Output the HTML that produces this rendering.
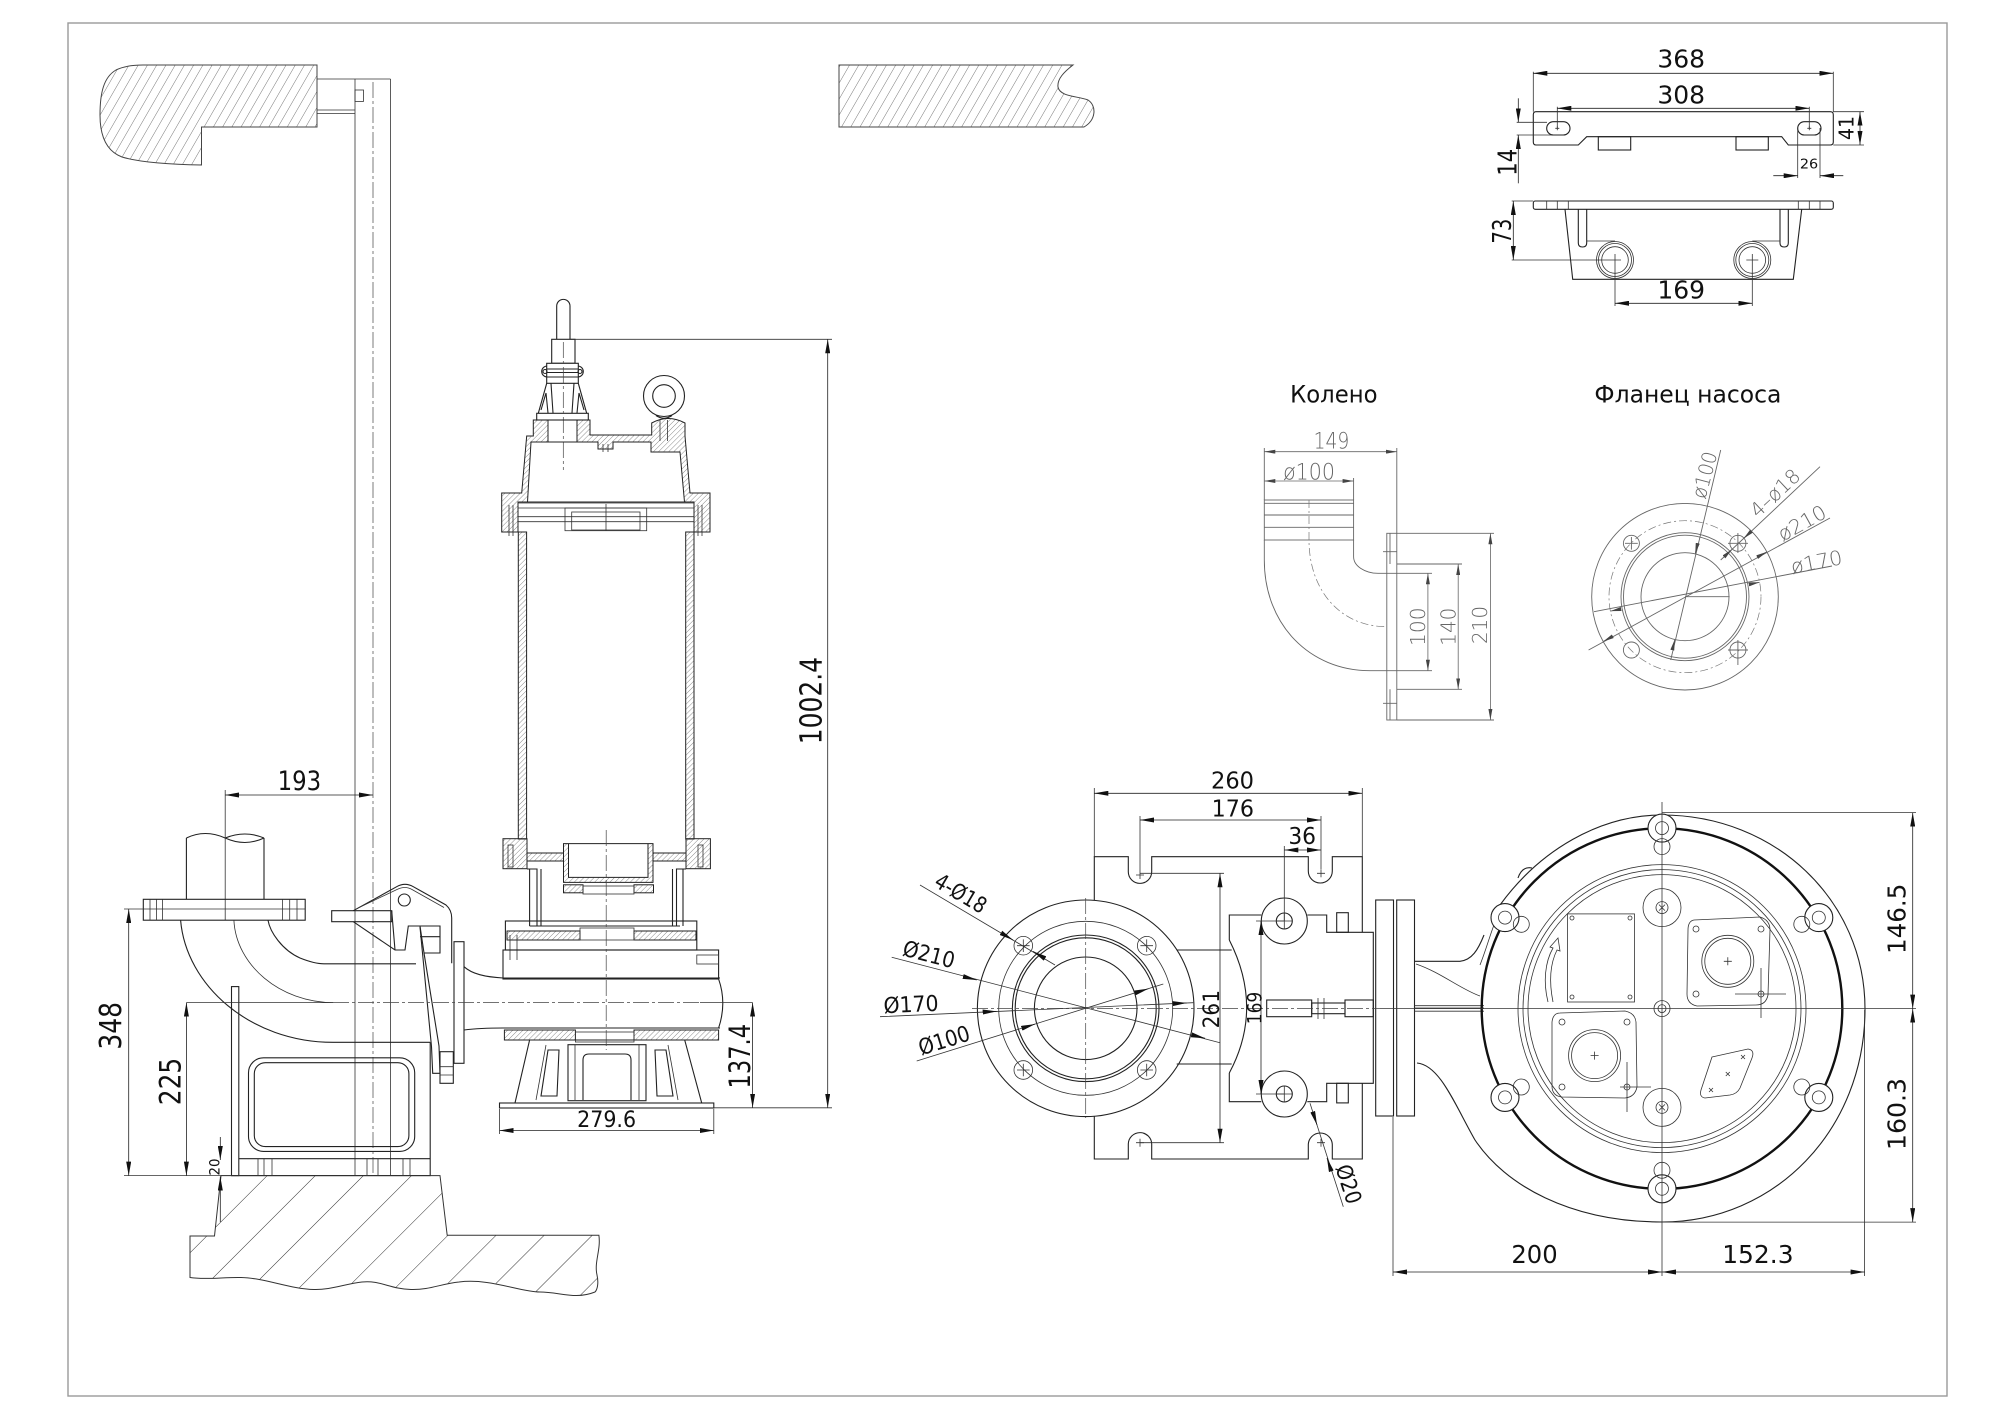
<!DOCTYPE html>
<html><head><meta charset="utf-8"><style>
html,body{margin:0;padding:0;background:#fff;}
svg{display:block;}
text{font-family:"DejaVu Sans","Liberation Sans",sans-serif;fill:#111;}
.l{stroke:#222;stroke-width:1.1;fill:none;}
.t{stroke:#333;stroke-width:0.8;fill:none;}
.c{stroke:#444;stroke-width:0.7;fill:none;stroke-dasharray:16 3 3 3;}
.g{stroke:#666;stroke-width:0.9;fill:none;}
.gc{stroke:#777;stroke-width:0.7;fill:none;stroke-dasharray:8 3 2 3;}
.d{stroke:#222;stroke-width:0.8;fill:none;}
.dd{marker-start:url(#a);marker-end:url(#a);}
.de{marker-end:url(#a);}
.gd{stroke:#666;stroke-width:0.8;fill:none;marker-start:url(#b);marker-end:url(#b);}
.ge{stroke:#666;stroke-width:0.8;fill:none;marker-end:url(#b);}
.h{fill:url(#hs);stroke:#222;stroke-width:1;}
.gt{fill:#666;font-weight:300;}
</style></head><body>
<svg width="2000" height="1414" viewBox="0 0 2000 1414" xmlns="http://www.w3.org/2000/svg">
<defs>
<marker id="a" viewBox="0 0 14 5" refX="14" refY="2.5" markerWidth="14" markerHeight="5" markerUnits="userSpaceOnUse" orient="auto-start-reverse"><path d="M0,0 L14,2.5 L0,5 Z" fill="#111"/></marker>
<marker id="b" viewBox="0 0 11 4" refX="11" refY="2" markerWidth="11" markerHeight="4" markerUnits="userSpaceOnUse" orient="auto-start-reverse"><path d="M0,0 L11,2 L0,4 Z" fill="#444"/></marker>
<pattern id="hs" width="3.6" height="3.6" patternUnits="userSpaceOnUse" patternTransform="rotate(45)"><line x1="0" y1="0" x2="0" y2="3.6" stroke="#444" stroke-width="0.6"/></pattern>
<pattern id="hw" width="8" height="8" patternUnits="userSpaceOnUse" patternTransform="rotate(30)"><line x1="0" y1="0" x2="0" y2="8" stroke="#555" stroke-width="0.8"/></pattern>
<pattern id="hf" width="34" height="34" patternUnits="userSpaceOnUse" patternTransform="rotate(45)"><line x1="0" y1="0" x2="0" y2="34" stroke="#333" stroke-width="1"/></pattern>
</defs>

<rect x="68" y="23" width="1879" height="1373" fill="none" stroke="#9a9a9a" stroke-width="1.4"/>

<!-- top-left wall slab -->
<path d="M143,65 L317,65 L317,127 L201.5,127 L201.5,165 C175,164.5 142,163 122,157 C106,151 100,136 100,115 C100,92 104,77 116,70 C124,66 133,65 143,65 Z" fill="url(#hw)" stroke="#444" stroke-width="1"/>
<path class="t" d="M317,79 H355 M317,113.6 H355 M317,110 H355"/>
<rect class="t" x="355" y="90" width="8.5" height="11.4"/>
<!-- guide rail -->
<path class="t" d="M355,79 H390.5 M355,79 V1175.6 M390.5,79 V1175.6"/>
<line class="c" x1="373" y1="82" x2="373" y2="1175"/>

<!-- top-right slab -->
<path d="M839,65 L1073,65 C1064,72 1057,79 1058,87 C1060,97 1078,96 1088,100 C1097,106 1096,120 1084,127 L839,127 Z" fill="url(#hw)" stroke="#444" stroke-width="1"/>

<!-- ===== PUMP SIDE VIEW ===== -->
<g class="l">
<path d="M556.7,339 L556.7,306 A6.65,6.65 0 0 1 570,306 L570,339"/>
<rect x="551.7" y="339.3" width="23.3" height="24"/>
<rect x="541.7" y="366" width="41.6" height="11" rx="5.5"/>
<rect x="546.7" y="363.3" width="31.6" height="20" fill="#fff"/>
<path d="M546.7,369 H578.3 M546.7,372.5 H578.3 M546.7,377 H578.3"/>
<circle cx="545" cy="371.5" r="2"/><circle cx="580" cy="371.5" r="2"/>
<path d="M546.7,383.3 L538.3,413.3 M578.3,383.3 L586.7,413.3 M551,383.3 L553,413 M574,383.3 L572,413 M541,410 L546,393 L548,413 M584,410 L579,393 L577,413"/>
<rect x="536.7" y="413.3" width="51.6" height="6.7"/>
</g>
<line class="c" x1="563.3" y1="342" x2="563.3" y2="470"/>
<path class="h" fill-rule="evenodd" d="M533.3,420 L590,420 L590,435 L651.7,435 L651.7,423 Q668,414 685,423 L685,436 L690,493 L710,493 L710,532 L694,532 L694,502 L518,502 L518,532 L501.7,532 L501.7,493 L521.7,493 L526.7,436 L533.3,436 Z M531,442 L598,442 L598,449 L613,449 L613,442 L651,442 L651,452 L680,452 L684.5,502 L527.5,502 Z M548,420 L577,420 L577,442 L548,442 Z"/>
<circle class="l" cx="664" cy="396" r="20.5"/><circle class="l" cx="664" cy="396" r="11.3"/>
<path class="l" d="M656,415.5 Q664,421 672,415.5"/>
<path class="t" d="M660,420 V441 M667.5,420 V441 M603,444 V452 M608,444 V452"/>
<path class="t" d="M518,503 H694 M518,508 H694 M518,516.7 H694 M518,521.7 H694"/>
<rect class="t" x="565" y="508" width="81.7" height="22.7"/>
<rect class="t" x="571.7" y="512" width="68.3" height="18"/>
<path class="t" d="M606,504 V531 M509,505 V536 M513,505 V536 M698,505 V536 M702,505 V536"/>
<rect class="h" x="518.3" y="532" width="8.3" height="307"/>
<rect class="h" x="685.7" y="532" width="8.3" height="307"/>
<!-- lower motor section -->
<rect class="h" x="503" y="838.7" width="24" height="30"/>
<rect class="h" x="686" y="838.7" width="24.4" height="30"/>
<rect class="t" x="508" y="845" width="5" height="22" fill="#fff"/>
<rect class="t" x="698" y="845" width="5" height="22" fill="#fff"/>
<path class="h" fill-rule="evenodd" d="M563.5,843.6 H653 V882.4 H563.5 Z M568.5,843.6 H648 V877.4 H568.5 Z"/>
<rect class="h" x="527" y="853" width="36.5" height="8"/>
<rect class="h" x="653" y="853" width="33" height="8"/>
<path class="l" d="M527,869 H537 V926 M686,869 H676.5 V926 M541,869 V926 M672.5,869 V926 M529.6,926 H680 M529.6,869 V926 M683,869 V926"/>
<rect class="h" x="563.5" y="884.8" width="19.5" height="8"/>
<rect class="h" x="634" y="884.8" width="19.5" height="8"/>
<rect class="t" x="583" y="886" width="51" height="8"/>
<rect class="l" x="505.4" y="921" width="191.4" height="29"/>
<rect class="h" x="507" y="931" width="73" height="9"/>
<rect class="h" x="634" y="931" width="62" height="9"/>
<rect class="t" x="580" y="928" width="54" height="12"/>
<path class="t" d="M510,935 V960 M517,935 V960"/>
<rect class="l" x="503" y="950" width="215.6" height="29"/>
<rect class="t" x="696.8" y="955" width="21.8" height="9"/>
<path class="l" d="M464,966.7 C472,974 485,977 503,978 L720,978 M464,1030 C472,1029 485,1028 503,1028 L720,1028 M718.6,979 Q727,1003 718.6,1028"/>
<rect class="h" x="504.4" y="1030" width="71" height="10"/>
<rect class="h" x="634" y="1030" width="84.6" height="10"/>
<rect class="t" x="575.4" y="1032" width="58.6" height="10"/>
<path class="l" d="M529.6,1040 H684.7 L701.7,1103 H515 Z"/>
<rect class="l" x="568" y="1044.7" width="78" height="56"/>
<path class="l" d="M583,1100 V1060 Q583,1054 589,1054 H625 Q631,1054 631,1060 V1100"/>
<path class="l" d="M541,1096 L548,1050 L559,1050 L557,1096 Z M673,1096 L666,1050 L655,1050 L657,1096 Z"/>
<path class="t" d="M536,1100 L546,1045 M678,1100 L668,1045 M575,1045 V1100 M639,1045 V1100"/>
<rect class="l" x="499.5" y="1103" width="214.3" height="5"/>
<line class="c" x1="606.2" y1="830" x2="606.2" y2="1050"/>

<!-- elbow / base (left) -->
<path class="l" d="M186.4,838 V899.3 M264,838 V899.3 M186.4,838 Q205,829 225.2,838 Q245,847 264,838 M225.2,838 Q245,830 264,838"/>
<line class="t" x1="225.2" y1="790" x2="225.2" y2="920"/>
<rect class="l" x="143.3" y="899.3" width="161.9" height="20.9"/>
<path class="t" d="M143.3,909 H305.2 M150,899.3 V920.2 M156.4,899.3 V920.2 M162.6,899.3 V920.2 M282.4,899.3 V920.2 M289.7,899.3 V920.2 M297,899.3 V920.2"/>
<path class="l" d="M180.6,920.2 C186,985 250,1042.3 333,1042.3 L430.2,1042.3"/>
<path class="l" d="M268,920.2 C270,932 282,950 300,958 C310,962 318,963.8 324,963.8 L416,963.8"/>
<path class="t" d="M233.9,920.2 C236,965 280,1002.6 333.3,1002.6"/>
<rect class="l" x="231.5" y="986.6" width="7.3" height="189"/>
<path class="l" d="M430.2,1042.3 V1175.6 H231.5 M238.8,1158.7 H430.2"/>
<path class="t" d="M258,1158.7 V1175.6 M264,1158.7 V1175.6 M272,1158.7 V1175.6 M367,1158.7 V1175.6 M378,1158.7 V1175.6 M403,1158.7 V1175.6 M410,1158.7 V1175.6"/>
<rect class="l" x="248.5" y="1057.8" width="166.2" height="93.6" rx="15"/>
<rect class="l" x="254.3" y="1062.7" width="154.6" height="83.9" rx="11"/>
<!-- hook mechanism -->
<rect class="l" x="331.7" y="910.7" width="60" height="11" fill="#fff"/>
<path class="l" d="M353.3,910.7 L396.7,886.7 Q405,882 413.3,886.7 L446,905 Q451.7,910 451.7,918 V963.3"/>
<path class="t" d="M358,908 L397,889.5 Q405,885.5 412,889.5 L444,907.5"/>
<path class="l" d="M353.3,921.7 L395,950 H405 L408.3,926 H420 L424,953 H440 V926 H420 M420,936.7 H440 M391.7,910.7 L395,950"/>
<circle class="l" cx="404.3" cy="900" r="6"/>
<path class="l" d="M420,927 L431.5,1046.7 L432.7,1073.3 H440 L439,1046 L424,953"/>
<rect class="l" x="454" y="941.7" width="10" height="121.6"/>
<rect class="l" x="440" y="1051.7" width="13.3" height="31.6"/>
<path class="t" d="M440,1066.7 H453.3 M440,1075 H453.3"/>
<!-- floor -->
<path d="M221,1175.6 H440 L447.2,1235.3 H598.9 C601,1250 594,1262 597,1275 C599,1284 597,1290 595,1292 C575,1300 560,1292 540,1292 C520,1292 490,1278 459,1282 C440,1284 430,1290 411,1289.5 C390,1289 380,1280 362,1282 C345,1284 330,1290 314,1289.5 C290,1289 265,1278 241,1277.5 C225,1277 205,1280 190,1277.5 V1236 H214.5 Z" fill="url(#hf)" stroke="#333" stroke-width="1"/>

<!-- left dims -->
<line class="d dd" x1="225.2" y1="795" x2="373" y2="795"/>
<text x="299.4" y="790" font-size="26.5" text-anchor="middle" textLength="43.6" lengthAdjust="spacingAndGlyphs">193</text>
<line class="d dd" x1="128.7" y1="909" x2="128.7" y2="1175.6"/>
<path class="t" d="M124,909 H143.3 M124,1175.6 H231.5"/>
<text transform="translate(121.2,1025.8) rotate(-90)" font-size="30" text-anchor="middle" textLength="47.6" lengthAdjust="spacingAndGlyphs">348</text>
<line class="d dd" x1="186.4" y1="1002.6" x2="186.4" y2="1175.6"/>
<text transform="translate(180.6,1081.5) rotate(-90)" font-size="29.5" text-anchor="middle" textLength="47.5" lengthAdjust="spacingAndGlyphs">225</text>
<line class="d de" x1="220.3" y1="1137" x2="220.3" y2="1160"/>
<line class="d de" x1="220.3" y1="1222" x2="220.3" y2="1176.5"/>
<text transform="translate(219.4,1167) rotate(-90)" font-size="14.5" text-anchor="middle" textLength="17" lengthAdjust="spacingAndGlyphs">20</text>
<path class="t" d="M186.4,1002.6 H333 M700,1002.6 H752.6"/>
<line class="c" x1="333" y1="1002.6" x2="700" y2="1002.6"/>
<path class="t" d="M570,339.3 H832 M713.8,1107.8 H832"/>
<line class="d dd" x1="827.7" y1="339.3" x2="827.7" y2="1107.8"/>
<text transform="translate(821.4,700.6) rotate(-90)" font-size="30" text-anchor="middle" textLength="87.2" lengthAdjust="spacingAndGlyphs">1002.4</text>
<line class="d dd" x1="752.6" y1="1002.6" x2="752.6" y2="1107.8"/>
<text transform="translate(750.2,1056.2) rotate(-90)" font-size="29.5" text-anchor="middle" textLength="64.5" lengthAdjust="spacingAndGlyphs">137.4</text>
<line class="d dd" x1="499.5" y1="1130.5" x2="713.8" y2="1130.5"/>
<path class="t" d="M499.5,1109 V1134 M713.8,1109 V1134"/>
<text x="606.6" y="1127" font-size="22" text-anchor="middle" textLength="59" lengthAdjust="spacingAndGlyphs">279.6</text>

<!-- ===== MIDDLE (DISCHARGE) VIEW ===== -->
<path class="l" d="M1094.3,900 V856.7 H1128.3 V871.7 A11.7,11.7 0 0 0 1151.7,871.7 V856.7 H1308.3 V871 A12,12 0 0 0 1332.3,871 V856.7 H1362.3 V932.3"/>
<path class="l" d="M1094.3,1116 V1159 H1128.3 V1144.3 A11.7,11.7 0 0 1 1151.7,1144.3 V1159 H1308.3 V1145 A12,12 0 0 1 1332.3,1145 V1159 H1362.3 V1083.3"/>
<path class="t" d="M1136,875 H1144 M1140,871 V879 M1317,873.3 H1325 M1321,869.3 V877.3 M1136,1142.7 H1144 M1140,1138.7 V1146.7 M1317,1142.7 H1325 M1321,1138.7 V1146.7"/>
<path class="l" d="M1176.7,950 H1231.7 M1176.7,1064 H1231.7"/>
<path class="l" d="M1229.3,940 V915 H1261.3 M1307.3,915 H1326.7 V932.3 H1373.3 V1083.3 H1326.7 V1101.7 H1307.3 M1261.3,1101.7 H1229.3 V1073"/>
<path class="l" d="M1229.3,940 Q1264,1008.3 1229.3,1073"/>
<rect class="l" x="1336.7" y="912.7" width="11.6" height="19.6"/>
<rect class="l" x="1336.7" y="1083.3" width="11.6" height="19.6"/>
<circle class="l" cx="1284.3" cy="921" r="23" fill="#fff"/>
<circle class="l" cx="1284.3" cy="921" r="8"/>
<path class="t" d="M1276,921 H1292.6 M1284.3,913 V929"/>
<circle class="l" cx="1284.3" cy="1094" r="23" fill="#fff"/>
<circle class="l" cx="1284.3" cy="1094" r="8"/>
<path class="t" d="M1276,1094 H1292.6 M1284.3,1086 V1102"/>
<rect class="l" x="1266.7" y="1000" width="45" height="16.7"/>
<rect class="l" x="1311.7" y="1003" width="33.3" height="10.7"/>
<rect class="l" x="1345" y="1000" width="28.3" height="16.7"/>
<path class="t" d="M1318,998 V1019 M1324,998 V1019"/>
<rect class="l" x="1375.7" y="900" width="17.8" height="216" fill="#fff"/>
<rect class="l" x="1396.7" y="900" width="17.8" height="216" fill="#fff"/>
<!-- flange circle -->
<circle class="l" cx="1085.7" cy="1008.3" r="108.3" fill="#fff"/>
<circle class="t" cx="1085.7" cy="1008.3" r="87"/>
<circle class="l" cx="1085.7" cy="1008.3" r="73.3"/>
<circle class="l" cx="1085.7" cy="1008.3" r="70.5"/>
<circle class="l" cx="1085.7" cy="1008.3" r="51.3"/>
<g class="t">
<circle cx="1023.3" cy="945.7" r="9.3"/><circle cx="1146.7" cy="945.7" r="9.3"/>
<circle cx="1023.3" cy="1070" r="9.3"/><circle cx="1146.7" cy="1070" r="9.3"/>
<path d="M1017,945.7 H1029.6 M1023.3,939.4 V952 M1140.4,945.7 H1153 M1146.7,939.4 V952 M1017,1070 H1029.6 M1023.3,1063.7 V1076.3 M1140.4,1070 H1153 M1146.7,1063.7 V1076.3"/>
</g>
<line class="c" x1="1085.7" y1="898" x2="1085.7" y2="1118"/>
<line class="c" x1="972" y1="1008.5" x2="1380" y2="1008.5"/>
<!-- middle dims -->
<path class="t" d="M1094.3,788 V856.7 M1362.3,788 V856.7 M1140,816 V871 M1321,816 V869 M1284.3,846 V921 M1140,873.3 H1224 M1140,1142.7 H1224 M1256,921 H1284.3 M1256,1094 H1284.3"/>
<line class="d dd" x1="1094.3" y1="793.3" x2="1362.3" y2="793.3"/>
<text x="1232.5" y="788.3" font-size="23" text-anchor="middle" textLength="43" lengthAdjust="spacingAndGlyphs">260</text>
<line class="d dd" x1="1140" y1="820" x2="1321" y2="820"/>
<text x="1232.8" y="816.7" font-size="23" text-anchor="middle" textLength="42.3" lengthAdjust="spacingAndGlyphs">176</text>
<line class="d dd" x1="1284.3" y1="850" x2="1321" y2="850"/>
<text x="1302.2" y="844" font-size="23" text-anchor="middle" textLength="27.7" lengthAdjust="spacingAndGlyphs">36</text>
<line class="d dd" x1="1220" y1="873.3" x2="1220" y2="1142.7"/>
<text transform="translate(1219,1009.2) rotate(-90)" font-size="22.3" text-anchor="middle" textLength="38.3" lengthAdjust="spacingAndGlyphs">261</text>
<line class="d dd" x1="1261" y1="921" x2="1261" y2="1094"/>
<text transform="translate(1261.7,1008) rotate(-90)" font-size="19.5" text-anchor="middle" textLength="32.6" lengthAdjust="spacingAndGlyphs">169</text>
<!-- leaders -->
<path class="t" d="M920,885 L1055,965 M891.7,957.3 L1220,1042.7 M880,1016.7 L1193.3,1002.7 M916.7,1061 L1163.3,984 M1310,1103.3 L1343.3,1206.7"/>
<line class="d de" x1="1001" y1="932.9" x2="1013" y2="940"/>
<line class="d de" x1="1045" y1="958.5" x2="1033" y2="951.4"/>
<line class="d de" x1="963.1" y1="976.5" x2="976.7" y2="980"/>
<line class="d de" x1="1191.4" y1="1034.8" x2="1205" y2="1038.3"/>
<line class="d de" x1="982.7" y1="1012" x2="996.7" y2="1011.4"/>
<line class="d de" x1="1172.7" y1="1003.6" x2="1186.7" y2="1003"/>
<line class="d de" x1="1021.6" y1="1028.3" x2="1035" y2="1024.1"/>
<line class="d de" x1="1134.9" y1="992.9" x2="1148.3" y2="988.7"/>
<line class="d de" x1="1312.7" y1="1111.7" x2="1317" y2="1125"/>
<line class="d de" x1="1331.3" y1="1171.3" x2="1327" y2="1158"/>
<text transform="translate(961,893) rotate(30.6)" y="8" font-size="22" text-anchor="middle" textLength="56" lengthAdjust="spacingAndGlyphs">4-Ø18</text>
<text transform="translate(929,954) rotate(14.6)" y="8" font-size="22" text-anchor="middle" textLength="52.7" lengthAdjust="spacingAndGlyphs">Ø210</text>
<text transform="translate(911,1004) rotate(-2.6)" y="8" font-size="22" text-anchor="middle" textLength="55" lengthAdjust="spacingAndGlyphs">Ø170</text>
<text transform="translate(944,1040) rotate(-17.3)" y="8" font-size="22" text-anchor="middle" textLength="52.6" lengthAdjust="spacingAndGlyphs">Ø100</text>
<text transform="translate(1349,1184) rotate(72)" y="8" font-size="22" text-anchor="middle" textLength="40" lengthAdjust="spacingAndGlyphs">Ø20</text>

<!-- ===== MOTOR BOTTOM VIEW ===== -->
<path class="l" d="M1500,905 C1540,850 1600,815 1662,815 C1775,815 1865,900 1865,1009 C1865,1130 1775,1222 1662,1222 C1570,1222 1505,1185 1475,1140 C1455,1105 1440,1065 1417,1063"/>
<path class="l" d="M1518,878 Q1522,866 1532,868"/>
<path class="l" d="M1414.5,961.3 H1460 C1472,960 1478,950 1484,935"/>
<path class="t" d="M1416,964 C1440,972 1462,990 1480,996 M1414.5,1005.7 H1484 M1414.5,1011.2 H1484 M1414.5,1008 H1484 M1480,965 C1486,950 1490,935 1494,925"/>
<circle cx="1662" cy="1008.6" r="180.3" fill="none" stroke="#111" stroke-width="2.4"/>
<circle class="t" cx="1662" cy="1008.6" r="144"/>
<circle class="t" cx="1662" cy="1008.6" r="139"/>
<circle class="t" cx="1662" cy="1008.6" r="134"/>
<g class="l" fill="#fff">
<circle cx="1662" cy="828.1" r="14" fill="#fff"/><circle cx="1505" cy="917.6" r="14" fill="#fff"/><circle cx="1818.8" cy="917.6" r="14" fill="#fff"/>
<circle cx="1505" cy="1097.4" r="14" fill="#fff"/><circle cx="1818.8" cy="1097.4" r="14" fill="#fff"/><circle cx="1662" cy="1188.8" r="14" fill="#fff"/>
</g>
<g class="t">
<circle cx="1662" cy="828.1" r="6.5"/><circle cx="1505" cy="917.6" r="6.5"/><circle cx="1818.8" cy="917.6" r="6.5"/>
<circle cx="1505" cy="1097.4" r="6.5"/><circle cx="1818.8" cy="1097.4" r="6.5"/><circle cx="1662" cy="1188.8" r="6.5"/>
<circle cx="1662" cy="846.6" r="8"/><circle cx="1662" cy="1170.3" r="8"/>
<circle cx="1521.3" cy="924.3" r="8"/><circle cx="1801.8" cy="924.3" r="8"/>
<circle cx="1521.3" cy="1087" r="8"/><circle cx="1801.8" cy="1087" r="8"/>
<circle cx="1662" cy="907.6" r="19"/><circle cx="1662" cy="907.6" r="6"/>
<circle cx="1662" cy="1107.4" r="19"/><circle cx="1662" cy="1107.4" r="6"/>
<circle cx="1662" cy="1008.6" r="8"/><circle cx="1662" cy="1008.6" r="4"/>
<path d="M1659,904.6 L1665,910.6 M1665,904.6 L1659,910.6 M1659,1104.4 L1665,1110.4 M1665,1104.4 L1659,1110.4"/>
<rect x="1567.6" y="913.9" width="66.9" height="88.1"/>
<circle cx="1572" cy="918" r="2"/><circle cx="1630" cy="918" r="2"/><circle cx="1572" cy="997" r="2"/><circle cx="1630" cy="997" r="2"/>
<path d="M1548,1002 C1543,982 1545,962 1553,948 L1550,947 L1558,938 L1560,951 L1557,950 C1550,964 1549,982 1553,1002"/>
<path d="M1694,920 L1760,917 Q1770,920 1770,930 L1768,995 Q1766,1005 1756,1005 L1697,1006 Q1687,1004 1687,994 L1688,930 Q1688,921 1694,920 Z"/>
<circle cx="1727.8" cy="961.3" r="26"/><circle cx="1727.8" cy="961.3" r="23"/>
<path d="M1723.8,961.3 H1731.8 M1727.8,957.3 V965.3"/>
<circle cx="1696" cy="929" r="3"/><circle cx="1761" cy="929" r="3"/><circle cx="1696" cy="994" r="3"/><circle cx="1761" cy="994" r="3"/>
<path d="M1735,994 H1786 M1761,968 V1018 M1620,1087 H1651 M1627,1062 V1112"/>
<path d="M1560,1013 L1625,1011 Q1635,1013 1636,1022 L1637,1087 Q1635,1097 1625,1098 L1562,1097 Q1552,1096 1552,1086 L1552,1022 Q1553,1013 1560,1013 Z"/>
<circle cx="1594.6" cy="1055.6" r="26"/><circle cx="1594.6" cy="1055.6" r="23"/>
<path d="M1590.6,1055.6 H1598.6 M1594.6,1051.6 V1059.6"/>
<circle cx="1562" cy="1022" r="3"/><circle cx="1627" cy="1022" r="3"/><circle cx="1562" cy="1087" r="3"/><circle cx="1627" cy="1087" r="3"/>
<path d="M1712,1057 L1748,1049 Q1755,1050 1752,1058 L1740,1088 Q1737,1094 1730,1095 L1705,1098 Q1699,1097 1701,1090 Z"/>
<path d="M1741,1055 L1745,1059 M1745,1055 L1741,1059 M1725.8,1072 L1729.8,1076 M1729.8,1072 L1725.8,1076 M1709,1088 L1713,1092 M1713,1088 L1709,1092"/>
</g>
<path class="t" d="M1380,1008.6 H1916 M1662,802 V1276 M1662,812.6 H1916 M1662,1222.1 H1916 M1393,1117 V1276 M1864.6,1010 V1276"/>
<line class="d dd" x1="1912.7" y1="812.6" x2="1912.7" y2="1008.6"/>
<line class="d dd" x1="1912.7" y1="1008.6" x2="1912.7" y2="1222.1"/>
<text transform="translate(1905.3,918.8) rotate(-90)" font-size="25.3" text-anchor="middle" textLength="70.3" lengthAdjust="spacingAndGlyphs">146.5</text>
<text transform="translate(1905.3,1114) rotate(-90)" font-size="25.3" text-anchor="middle" textLength="72.2" lengthAdjust="spacingAndGlyphs">160.3</text>
<line class="d dd" x1="1393" y1="1272" x2="1662" y2="1272"/>
<line class="d dd" x1="1662" y1="1272" x2="1864.6" y2="1272"/>
<text x="1534.5" y="1262.8" font-size="25.3" text-anchor="middle" textLength="46.3" lengthAdjust="spacingAndGlyphs">200</text>
<text x="1757.9" y="1262.8" font-size="25.3" text-anchor="middle" textLength="71.4" lengthAdjust="spacingAndGlyphs">152.3</text>

<!-- ===== TOP PLATE ===== -->
<path class="l" d="M1536,111.7 H1830.3 Q1833.3,111.7 1833.3,114.7 V142 Q1833.3,145 1830.3,145 H1788.3 L1781.7,136.7 H1586.7 L1578.3,145 H1536 Q1533.3,145 1533.3,142 V114.7 Q1533.3,111.7 1536,111.7 Z"/>
<rect class="l" x="1598.3" y="136.7" width="32.4" height="13.3"/>
<rect class="l" x="1736" y="136.7" width="32.3" height="13.3"/>
<rect class="l" x="1546.7" y="121.7" width="23.3" height="13.3" rx="6.65"/>
<rect class="l" x="1797.7" y="121.7" width="23.3" height="13.3" rx="6.65"/>
<path class="t" d="M1555.3,128.3 H1559.3 M1557.3,126.3 V130.3 M1807.3,128.3 H1811.3 M1809.3,126.3 V130.3"/>
<path class="t" d="M1533.3,71.7 V111.7 M1833.3,71.7 V111.7 M1557.3,106.7 V128.3 M1809.3,106.7 V128.3 M1833.3,111.7 H1864 M1833.3,145 H1864 M1516.7,122.3 H1547 M1516.7,135 H1552 M1797.7,128 V178 M1820,128 V178"/>
<line class="d dd" x1="1533.3" y1="73.3" x2="1833.3" y2="73.3"/>
<text x="1681.2" y="67.3" font-size="24.7" text-anchor="middle" textLength="47.7" lengthAdjust="spacingAndGlyphs">368</text>
<line class="d dd" x1="1557.3" y1="108.3" x2="1809.3" y2="108.3"/>
<text x="1681.2" y="103.3" font-size="24.7" text-anchor="middle" textLength="47.7" lengthAdjust="spacingAndGlyphs">308</text>
<line class="d dd" x1="1860" y1="111.7" x2="1860" y2="145"/>
<text transform="translate(1853.3,128) rotate(-90)" font-size="20.5" text-anchor="middle" textLength="24" lengthAdjust="spacingAndGlyphs">41</text>
<line class="d de" x1="1518.3" y1="98.3" x2="1518.3" y2="122.3"/>
<line class="d de" x1="1518.3" y1="183.3" x2="1518.3" y2="135"/>
<text transform="translate(1516.6,162.3) rotate(-90)" font-size="26" text-anchor="middle" textLength="27" lengthAdjust="spacingAndGlyphs">14</text>
<line class="d de" x1="1773.3" y1="175.7" x2="1797.7" y2="175.7"/>
<line class="d de" x1="1843.3" y1="175.7" x2="1820" y2="175.7"/>
<text x="1809" y="168.3" font-size="13.7" text-anchor="middle" textLength="18.3" lengthAdjust="spacingAndGlyphs">26</text>
<!-- top plate lower view -->
<rect class="l" x="1533.3" y="201" width="300" height="8.3" rx="2"/>
<path class="t" d="M1546.7,201 V209.3 M1557.3,201 V209.3 M1568.3,201 V209.3 M1798.3,201 V209.3 M1809.3,201 V209.3 M1820,201 V209.3"/>
<path class="l" d="M1565,209.3 L1572.7,279.3 H1793.3 L1801.7,209.3"/>
<path class="l" d="M1578.3,209.3 V243 Q1578.3,247 1582.5,247 Q1586.7,247 1586.7,243 V209.3 M1780,209.3 V243 Q1780,247 1784.2,247 Q1788.3,247 1788.3,243 V209.3"/>
<path class="t" d="M1586.7,241 H1615 M1752.3,241 H1780"/>
<g class="t">
<circle cx="1615" cy="260" r="18.5" fill="#fff"/><circle cx="1615" cy="260" r="16.5"/><circle cx="1615" cy="260" r="13.3"/>
<circle cx="1752.3" cy="260" r="18.5" fill="#fff"/><circle cx="1752.3" cy="260" r="16.5"/><circle cx="1752.3" cy="260" r="13.3"/>
<path d="M1609,260 H1621 M1615,254 V306 M1746.3,260 H1758.3 M1752.3,254 V306 M1511.7,201 H1533.3 M1511.7,260 H1615"/>
</g>
<line class="d dd" x1="1513.3" y1="201" x2="1513.3" y2="260"/>
<text transform="translate(1511,231.1) rotate(-90)" font-size="26" text-anchor="middle" textLength="25" lengthAdjust="spacingAndGlyphs">73</text>
<line class="d dd" x1="1615" y1="303.3" x2="1752.3" y2="303.3"/>
<text x="1681.2" y="298.3" font-size="24.7" text-anchor="middle" textLength="47.7" lengthAdjust="spacingAndGlyphs">169</text>

<!-- titles -->
<text x="1333.8" y="402.6" font-size="24" text-anchor="middle" textLength="87.4" lengthAdjust="spacingAndGlyphs">Колено</text>
<text x="1687.9" y="402.6" font-size="24" text-anchor="middle" textLength="187" lengthAdjust="spacingAndGlyphs">Фланец насоса</text>

<!-- ===== KOLENO ===== -->
<rect class="g" x="1264.3" y="500" width="89.3" height="40"/>
<path class="g" d="M1264.3,503.3 H1353.6 M1264.3,515 H1353.6 M1264.3,527.3 H1353.6"/>
<path class="gc" d="M1309,500 V540 C1309,590 1340,626.7 1386.8,626.7"/>
<path class="g" d="M1264.3,540 V560 C1264.3,625 1310,670.7 1370,670.7 H1386.8"/>
<path class="g" d="M1353.6,540 V556.7 C1353.6,566 1365,573.3 1378,573.3 H1386.8"/>
<rect class="g" x="1386.8" y="533.3" width="10" height="186.7"/>
<path class="g" d="M1383,551.7 H1396.8 M1383,703.3 H1396.8 M1390,533.3 V564 M1390,689.3 V720"/>
<path class="g" d="M1264.3,448 V500 M1396.8,448 V533.3 M1353.6,478 V500 M1396.8,533.3 H1494 M1396.8,720 H1494 M1396.8,564 H1462 M1396.8,689.3 H1462 M1386.8,573.3 H1432 M1386.8,670.7 H1432"/>
<line class="gd" x1="1264.3" y1="451.7" x2="1396.8" y2="451.7"/>
<line class="gd" x1="1264.3" y1="481" x2="1353.6" y2="481"/>
<line class="gd" x1="1427.9" y1="573.3" x2="1427.9" y2="670.7"/>
<line class="gd" x1="1458.2" y1="564" x2="1458.2" y2="689.3"/>
<line class="gd" x1="1490.4" y1="533.3" x2="1490.4" y2="720"/>
<text class="gt" x="1331.5" y="448.3" font-size="22" text-anchor="middle" textLength="35.7" lengthAdjust="spacingAndGlyphs">149</text>
<text class="gt" x="1309" y="479.3" font-size="22" text-anchor="middle" textLength="51.8" lengthAdjust="spacingAndGlyphs">ø100</text>
<text class="gt" transform="translate(1425,626.7) rotate(-90)" font-size="20" text-anchor="middle" textLength="38.7" lengthAdjust="spacingAndGlyphs">100</text>
<text class="gt" transform="translate(1455.7,626.7) rotate(-90)" font-size="20" text-anchor="middle" textLength="38" lengthAdjust="spacingAndGlyphs">140</text>
<text class="gt" transform="translate(1486.8,625) rotate(-90)" font-size="20" text-anchor="middle" textLength="38" lengthAdjust="spacingAndGlyphs">210</text>

<!-- ===== PUMP FLANGE ===== -->
<circle class="g" cx="1685" cy="596.7" r="93.3"/>
<circle class="gc" cx="1685" cy="596.7" r="76"/>
<circle class="g" cx="1685" cy="596.7" r="64"/>
<circle class="g" cx="1685" cy="596.7" r="61.5"/>
<circle class="g" cx="1685" cy="596.7" r="44"/>
<g class="g">
<circle cx="1631.4" cy="543.3" r="8"/><circle cx="1737.9" cy="543.3" r="8"/><circle cx="1631.4" cy="650" r="8"/><circle cx="1737.9" cy="650" r="8"/>
<path d="M1625,543.3 H1637.8 M1631.4,537 V549.6 M1728,543.3 H1748 M1737.9,533 V553 M1728,650 H1748 M1737.9,640 V665"/>
<path d="M1685,596.7 H1729.6"/>
</g>
<path class="g" d="M1720.7,450 L1670.7,660 M1820,466.7 L1720.7,560 M1830,518 L1588.6,650 M1832,566 L1594,611.7"/>
<line class="ge" x1="1697.5" y1="544.2" x2="1695.2" y2="553.9"/>
<line class="ge" x1="1672.5" y1="649.2" x2="1674.8" y2="639.5"/>
<line class="ge" x1="1750.8" y1="531.8" x2="1743.5" y2="538.6"/>
<line class="ge" x1="1724.7" y1="556.2" x2="1732" y2="549.4"/>
<line class="ge" x1="1758" y1="556.7" x2="1766.8" y2="551.9"/>
<line class="ge" x1="1612" y1="636.7" x2="1603.2" y2="641.5"/>
<line class="ge" x1="1749.8" y1="584.2" x2="1759.6" y2="582.3"/>
<line class="ge" x1="1620.2" y1="609.2" x2="1610.4" y2="611.1"/>
<text class="gt" transform="translate(1704.5,475) rotate(-75)" y="7" font-size="20" text-anchor="middle" textLength="47.6" lengthAdjust="spacingAndGlyphs">ø100</text>
<text class="gt" transform="translate(1775,493) rotate(-43)" y="7" font-size="20" text-anchor="middle" textLength="60" lengthAdjust="spacingAndGlyphs">4–ø18</text>
<text class="gt" transform="translate(1802,523) rotate(-29)" y="7" font-size="20" text-anchor="middle" textLength="52" lengthAdjust="spacingAndGlyphs">ø210</text>
<text class="gt" transform="translate(1816.5,562) rotate(-11)" y="7" font-size="20" text-anchor="middle" textLength="52" lengthAdjust="spacingAndGlyphs">ø170</text>
</svg>
</body></html>
